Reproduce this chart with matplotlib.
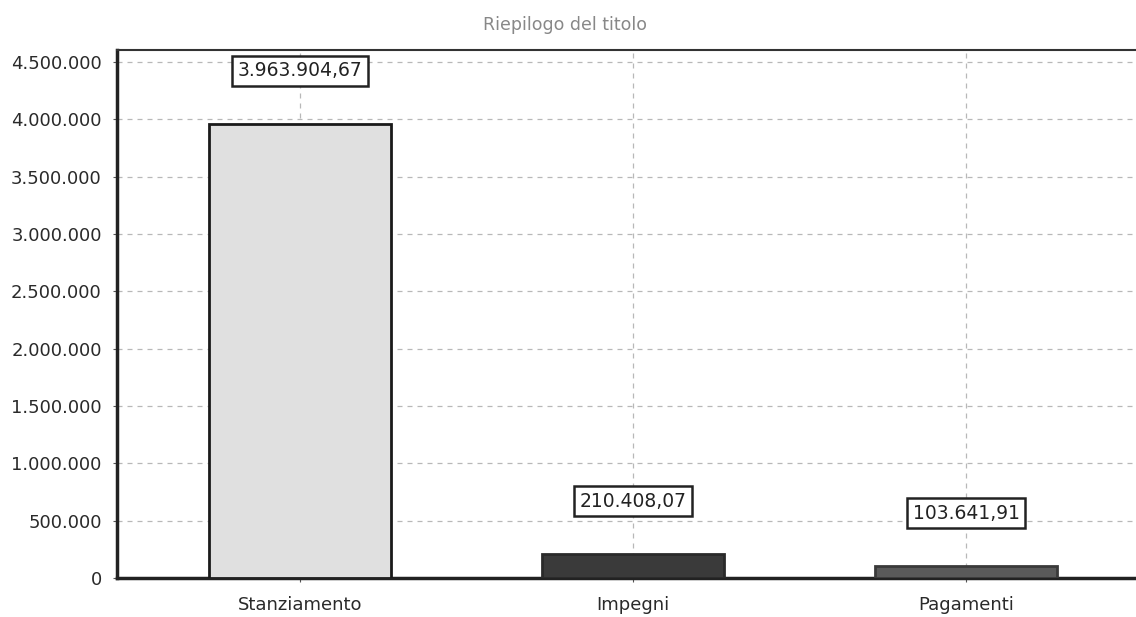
import matplotlib
matplotlib.use("Agg")
import matplotlib.pyplot as plt
from matplotlib.ticker import FuncFormatter

categories = ["Stanziamento", "Impegni", "Pagamenti"]
values = [3963904.67, 210408.07, 103641.91]
value_labels = ["3.963.904,67", "210.408,07", "103.641,91"]
yticks = [0, 500000, 1000000, 1500000, 2000000, 2500000, 3000000, 3500000, 4000000, 4500000]
title = "Riepilogo del titolo"

fill_colors = ["#e0e0e0", "#3a3a3a", "#5a5a5a"]
edge_colors = ["#1a1a1a", "#2a2a2a", "#3a3a3a"]

fig = plt.figure(figsize=(11.36, 6.17), dpi=100)
ax = fig.add_axes([117/1136, 1 - 578/617, (1136 - 117)/1136, (578 - 50)/617])

x = list(range(len(categories)))
ax.bar(x, values, width=0.547, color=fill_colors, edgecolor=edge_colors, linewidth=2, zorder=3)

for xi, v, lab in zip(x, values, value_labels):
    ax.annotate(lab, (xi, v), xytext=(0, 38), textcoords="offset points",
                ha="center", va="center", fontsize=13.5, color="#222222",
                bbox=dict(boxstyle="square,pad=0.3", fc="white", ec="#222222", lw=1.8),
                zorder=5)

ax.set_xlim(-0.55, 2.51)
ax.set_ylim(0, 4605000)
ax.set_yticks(yticks)
ax.yaxis.set_major_formatter(FuncFormatter(lambda v, p: f"{int(v):,}".replace(",", ".")))
ax.set_xticks(x)
ax.set_xticklabels(categories)
ax.tick_params(axis="both", labelsize=13, colors="#555555", length=3, width=0.8)
ax.tick_params(axis="y", pad=8)
ax.tick_params(axis="x", pad=10)
for t in ax.get_xticklabels() + ax.get_yticklabels():
    t.set_color("#2a2a2a")

ax.grid(True, linestyle=(0, (4, 4)), color="#b8b8b8", linewidth=0.9, zorder=0)
ax.set_axisbelow(True)

for s in ["left", "bottom"]:
    ax.spines[s].set_linewidth(2.5)
    ax.spines[s].set_color("#222222")
ax.spines["top"].set_linewidth(1.5)
ax.spines["top"].set_color("#333333")
ax.spines["right"].set_visible(False)

fig.text(565/1136, 1 - 25/617, title, ha="center", va="center", fontsize=12.5, color="#888888")

fig.savefig("out.png", dpi=100)
